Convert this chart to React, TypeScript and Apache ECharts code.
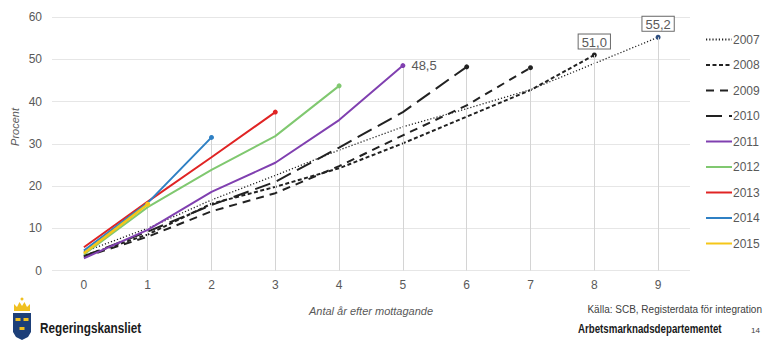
import React, { useEffect, useRef } from "react";
import * as echarts from "echarts";

const xCategories = ["0", "1", "2", "3", "4", "5", "6", "7", "8", "9"];
const years = ["2007", "2008", "2009", "2010", "2011", "2012", "2013", "2014", "2015"];

const s2007 = [4.4, 10.0, 16.7, 22.5, 28.5, 34.0, 38.3, 42.8, 49.0, 55.2];
const s2008 = [3.5, 8.5, 15.8, 19.8, 24.2, 30.1, 36.4, 42.7, 51.0];
const s2009 = [3.2, 8.0, 14.0, 18.3, 24.7, 32.0, 39.1, 48.0];
const s2010 = [3.4, 9.2, 15.5, 21.0, 29.1, 37.5, 48.2];
const s2011 = [2.9, 9.6, 18.6, 25.5, 35.6, 48.5];
const s2012 = [3.8, 15.0, 23.8, 31.8, 43.7];
const s2013 = [5.5, 16.3, 26.8, 37.5];
const s2014 = [4.7, 16.0, 31.5];
const s2015 = [4.1, 15.7];

const seriesValues = [s2007, s2008, s2009, s2010, s2011, s2012, s2013, s2014, s2015];
const yTicks = { min: 0, max: 60, interval: 10 };

const FONT = "'Liberation Sans', Arial, sans-serif";
const GRAY = "#595959";

const styles: any[] = [
  { color: "#222222", marker: "#2f4f80", type: [1.2, 2], width: 1.3, label: "box" },
  { color: "#222222", marker: "#222222", type: [4, 2.5], width: 2, label: "box" },
  { color: "#222222", marker: "#222222", type: [8, 6], width: 2, label: null },
  { color: "#222222", marker: "#222222", type: [16, 7], width: 2, label: null },
  { color: "#8040b0", marker: "#8040b0", type: "solid", width: 2, label: "right" },
  { color: "#80c870", marker: "#80c870", type: "solid", width: 2, label: null },
  { color: "#e02424", marker: "#e02424", type: "solid", width: 2, label: null },
  { color: "#2f80c4", marker: "#2f80c4", type: "solid", width: 2, label: null },
  { color: "#f5c619", marker: "#f5c619", type: "solid", width: 2.5, label: null },
];

const fmt = (v: number) => v.toFixed(1).replace(".", ",");

export default function App() {
  const ref = useRef<HTMLDivElement>(null);
  useEffect(() => {
    if (!ref.current) return;
    const chart = echarts.init(ref.current, undefined, { renderer: "svg" });

    const dropLines = seriesValues.map((vals) => {
      const i = vals.length - 1;
      return [{ coord: [i, vals[i]] }, { coord: [i, 0] }];
    });

    const lineSeries = seriesValues.map((vals, si) => {
      const st = styles[si];
      const data = vals.map((v, i) => {
        if (i !== vals.length - 1) return v;
        const item: any = {
          value: v,
          symbol: "circle",
          symbolSize: 5,
          itemStyle: { color: st.marker },
        };
        if (st.label === "box") {
          item.label = {
            show: true,
            position: "top",
            distance: 4,
            formatter: (p: any) => fmt(p.value),
            color: GRAY,
            fontSize: 13,
            fontFamily: FONT,
            borderColor: "#6a6a6a",
            borderWidth: 1,
            padding: [1, 3, 0, 3],
            backgroundColor: "#ffffff",
          };
        } else if (st.label === "right") {
          item.label = {
            show: true,
            position: "right",
            distance: 6,
            formatter: (p: any) => fmt(p.value),
            color: GRAY,
            fontSize: 13,
            fontFamily: FONT,
          };
        }
        return item;
      });
      return {
        name: years[si],
        type: "line",
        data,
        symbol: "none",
        showSymbol: true,
        color: st.color,
        lineStyle: { color: st.color, width: st.width, type: st.type },
        itemStyle: { color: st.color },
        emphasis: { disabled: true },
        z: 3 + si,
      };
    });

    const option: any = {
      animation: false,
      textStyle: { fontFamily: FONT },
      grid: { left: 52, right: 74, top: 17, bottom: 70.5, containLabel: false },
      legend: {
        data: years,
        orient: "vertical",
        left: 700,
        top: 28.5,
        itemWidth: 26,
        itemHeight: 14,
        itemGap: 13.5,
        itemStyle: { opacity: 0 },
        textStyle: { color: GRAY, fontSize: 12, fontFamily: FONT, padding: [0, 0, 0, -4] },
        selectedMode: false,
      },
      xAxis: {
        type: "category",
        data: xCategories,
        boundaryGap: true,
        axisLine: { show: false },
        axisTick: { show: false },
        axisLabel: { color: GRAY, fontSize: 12, margin: 8, fontFamily: FONT },
        splitLine: { show: false },
      },
      yAxis: {
        type: "value",
        min: yTicks.min,
        max: yTicks.max,
        interval: yTicks.interval,
        axisLine: { show: false },
        axisTick: { show: false },
        axisLabel: { color: GRAY, fontSize: 12, margin: 10, fontFamily: FONT },
        splitLine: { lineStyle: { color: "#e6e6e6", width: 1 } },
      },
      series: [
        {
          name: "drop",
          type: "line",
          data: [],
          z: 1,
          markLine: {
            silent: true,
            symbol: ["none", "none"],
            label: { show: false },
            lineStyle: { color: "#d4d4d4", width: 1, type: "solid" },
            data: dropLines,
          },
        },
        ...lineSeries,
      ],
      graphic: [
        {
          type: "text",
          x: 15,
          y: 127,
          rotation: Math.PI / 2,
          style: {
            text: "Procent",
            fontSize: 11,
            fontStyle: "italic",
            fontFamily: FONT,
            fill: GRAY,
            align: "center",
            verticalAlign: "middle",
          },
        },
        {
          type: "text",
          x: 371,
          y: 311,
          style: {
            text: "Antal år efter mottagande",
            fontSize: 11,
            fontStyle: "italic",
            fontFamily: FONT,
            fill: GRAY,
            align: "center",
            verticalAlign: "middle",
          },
        },
        {
          type: "text",
          x: 762,
          y: 309,
          style: {
            text: "Källa: SCB, Registerdata för integration",
            fontSize: 10,
            fontFamily: FONT,
            fill: "#404040",
            align: "right",
            verticalAlign: "middle",
          },
        },
        {
          type: "text",
          x: 40,
          y: 328,
          scaleX: 0.84,
          style: {
            text: "Regeringskansliet",
            fontSize: 14,
            fontWeight: "bold",
            fontFamily: FONT,
            fill: "#1a1a1a",
            align: "left",
            verticalAlign: "middle",
          },
        },
        {
          type: "text",
          x: 578,
          y: 329,
          scaleX: 0.81,
          style: {
            text: "Arbetsmarknadsdepartementet",
            fontSize: 12,
            fontWeight: "bold",
            fontFamily: FONT,
            fill: "#1a1a1a",
            align: "left",
            verticalAlign: "middle",
          },
        },
        {
          type: "text",
          x: 751,
          y: 330,
          style: {
            text: "14",
            fontSize: 8,
            fontFamily: FONT,
            fill: "#404040",
            align: "left",
            verticalAlign: "middle",
          },
        },
        // logo: crown
        {
          type: "polygon",
          shape: {
            points: [
              [14, 311], [14, 304], [17, 307], [19.5, 302], [22, 306], [24.5, 302], [27, 307], [30, 304], [30, 311],
            ],
          },
          style: { fill: "#f0c020" },
        },
        { type: "circle", shape: { cx: 22, cy: 299, r: 1.5 }, style: { fill: "#f0c020" } },
        // logo: shield
        {
          type: "polygon",
          shape: {
            points: [
              [13, 313], [31, 313], [31, 332], [28, 337], [22, 340], [16, 337], [13, 332],
            ],
          },
          style: { fill: "#1d3f78" },
        },
        { type: "rect", shape: { x: 15.5, y: 318, width: 5, height: 3 }, style: { fill: "#f0c020" } },
        { type: "rect", shape: { x: 23.5, y: 318, width: 5, height: 3 }, style: { fill: "#f0c020" } },
        { type: "rect", shape: { x: 19.5, y: 327, width: 5, height: 3 }, style: { fill: "#f0c020" } },
      ],
    };

    chart.setOption(option);
    return () => chart.dispose();
  }, []);

  return (
    <div
      ref={ref}
      style={{ position: "fixed", left: 0, top: 0, width: 764, height: 341, background: "#ffffff" }}
    />
  );
}
